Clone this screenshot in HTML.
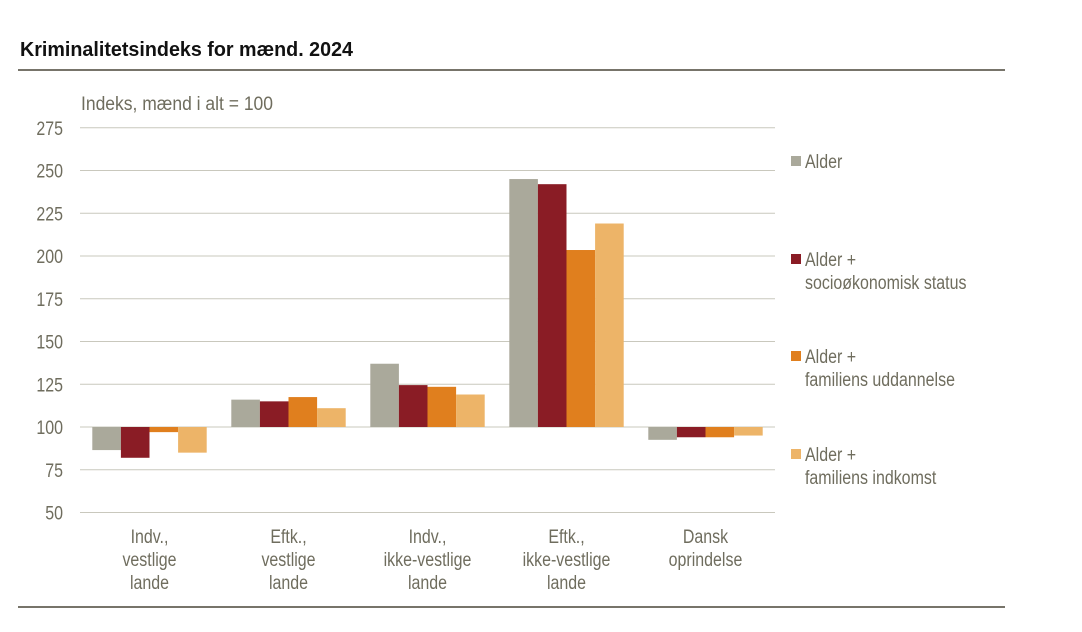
<!DOCTYPE html>
<html><head><meta charset="utf-8"><style>
body{margin:0;background:#fff}
svg{display:block}
text{font-family:"Liberation Sans",Arial,sans-serif;}
</style></head><body>
<svg id="c" width="1082" height="632" viewBox="0 0 1082 632">
<text x="20" y="56" font-size="20" font-weight="bold" fill="#111" textLength="333" lengthAdjust="spacingAndGlyphs">Kriminalitetsindeks for mænd. 2024</text>
<line x1="18" y1="70" x2="1005" y2="70" stroke="#77746a" stroke-width="2"/>
<line x1="18" y1="607" x2="1005" y2="607" stroke="#77746a" stroke-width="2"/>
<text x="81" y="110" font-size="19" fill="#6f6d5e" textLength="192" lengthAdjust="spacingAndGlyphs">Indeks, mænd i alt = 100</text>
<g id="grid"></g><g id="bars"></g><g id="labels"></g><g id="legend"></g>
</svg>
<script>
const categories=[["Indv.,","vestlige","lande"],["Eftk.,","vestlige","lande"],["Indv.,","ikke-vestlige","lande"],["Eftk.,","ikke-vestlige","lande"],["Dansk","oprindelse"]];
const seriesNames=[["Alder"],["Alder +","socioøkonomisk status"],["Alder +","familiens uddannelse"],["Alder +","familiens indkomst"]];
const alder=[86.5,116,137,245,92.5];
const socio=[82,115,124.5,242,94];
const udd=[97,117.5,123.5,203.5,94];
const indk=[85,111,119,219,95];
const series=[alder,socio,udd,indk];
const ticks=[50,75,100,125,150,175,200,225,250,275];
const colors=["#aaa99b","#8a1c25","#e07f1e","#edb468"];
const NS="http://www.w3.org/2000/svg";
const x0=80,x1=775,base=100;
const y=v=>427-(v-100)*42.75/25;
function mk(t,a,p,txt){const e=document.createElementNS(NS,t);for(const k in a)e.setAttribute(k,a[k]);if(txt!=null)e.textContent=txt;document.getElementById(p).appendChild(e);return e;}
ticks.forEach(t=>{
 const l=mk("line",{x1:x0,x2:x1,y1:y(t),y2:y(t),stroke:"#c9c8bd","stroke-width":1},"grid");
 
 
 const tx=mk("text",{x:63,y:y(t)+7,"font-size":19,fill:"#6f6d5e","text-anchor":"end"},"grid",t);
 
 
});
const gw=(x1-x0)/categories.length,bw=28.6;
categories.forEach((c,i)=>{
 const gx=x0+gw*i+(gw-4*bw)/2;
 series.forEach((s,j)=>{
  const v=s[i],top=Math.min(y(v),y(base)),h=Math.abs(y(v)-y(base));
  const r=mk("rect",{x:gx+j*bw,y:top,width:bw,height:h,fill:colors[j]},"bars");
  
  
 });
 c.forEach((ln,k)=>{
  const t=mk("text",{x:x0+gw*(i+0.5),y:543+k*23,"font-size":19,fill:"#6f6d5e","text-anchor":"middle"},"labels",ln);
  
  
 });
});
const ly=[168,266,363,461];
seriesNames.forEach((n,j)=>{
 const r=mk("rect",{x:791,y:ly[j]-12,width:10,height:10,fill:colors[j]},"legend");
 
 
 n.forEach((ln,k)=>{
  const t=mk("text",{x:805,y:ly[j]+k*23,"font-size":19,fill:"#6f6d5e"},"legend",ln);
  
  
 });
});
document.querySelectorAll('#grid text,#labels text,#legend text').forEach(t=>{
 const w=t.getComputedTextLength();t.setAttribute('textLength',w*0.84);t.setAttribute('lengthAdjust','spacingAndGlyphs');
});
</script>
</body></html>
